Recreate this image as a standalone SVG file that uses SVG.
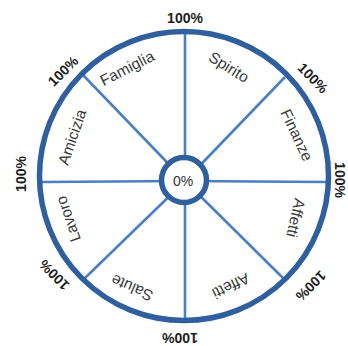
<svg xmlns="http://www.w3.org/2000/svg" width="348" height="346" viewBox="0 0 348 346">
<style>
.ring{fill:none;stroke:#2f5f9d;stroke-width:5.5}
.hub{fill:#fff;stroke:#2f5f9d;stroke-width:5.5}
.spoke{stroke:#4a7fc3;stroke-width:2.6;fill:none}
.lbl{font-family:"Liberation Sans",Arial,sans-serif;font-size:15.5px;fill:#3a3a3a;text-anchor:middle}
.pct{font-family:"Liberation Sans",Arial,sans-serif;font-size:14px;font-weight:bold;fill:#1e1e1e;text-anchor:middle}
.zero{font-family:"Liberation Sans",Arial,sans-serif;font-size:14px;fill:#333;text-anchor:middle}
</style>
<rect width="348" height="346" fill="#fff"/>
<g id="connectors">
<line class="spoke" x1="185" y1="181" x2="185" y2="33"/>
<line class="spoke" x1="185" y1="181" x2="185" y2="319"/>
<line class="spoke" x1="185" y1="181" x2="42" y2="182"/>
<line class="spoke" x1="185" y1="181" x2="327" y2="182"/>
<line class="spoke" x1="185" y1="181" x2="83" y2="75"/>
<line class="spoke" x1="185" y1="181" x2="285" y2="77"/>
<line class="spoke" x1="185" y1="181" x2="85" y2="278"/>
<line class="spoke" x1="185" y1="181" x2="284" y2="279"/>
</g>
<g id="outer">
<circle class="ring" cx="184" cy="176" r="144.5"/>
</g>
<g id="center">
<circle class="hub" cx="184" cy="180" r="22.5"/>
<text class="zero" x="183" y="186">0%</text>
</g>
<g id="spirito"><text class="lbl" transform="translate(229,67) rotate(32)" dy="5.5">Spirito</text></g>
<g id="finanze"><text class="lbl" transform="translate(297,135) rotate(65)" dy="5.5">Finanze</text></g>
<g id="affetti1"><text class="lbl" transform="translate(296,218) rotate(103)" dy="5.5">Affetti</text></g>
<g id="affetti2"><text class="lbl" transform="translate(231,286) rotate(154)" dy="5.5">Affetti</text></g>
<g id="salute"><text class="lbl" transform="translate(132,288) rotate(204)" dy="5.5">Salute</text></g>
<g id="lavoro"><text class="lbl" transform="translate(68,219) rotate(251)" dy="5.5">Lavoro</text></g>
<g id="amicizia"><text class="lbl" transform="translate(72,137) rotate(289)" dy="5.5">Amicizia</text></g>
<g id="famiglia"><text class="lbl" transform="translate(127,68) rotate(-27)" dy="5.5">Famiglia</text></g>
<g id="pct-labels">
<text class="pct" transform="translate(185,18)" dy="5">100%</text>
<text class="pct" transform="translate(313,78) rotate(45)" dy="5">100%</text>
<text class="pct" transform="translate(340,180) rotate(90)" dy="5">100%</text>
<text class="pct" transform="translate(311,286) rotate(135)" dy="5">100%</text>
<text class="pct" transform="translate(180,338) rotate(180)" dy="5">100%</text>
<text class="pct" transform="translate(54,275) rotate(225)" dy="5">100%</text>
<text class="pct" transform="translate(21,174) rotate(270)" dy="5">100%</text>
<text class="pct" transform="translate(63,71) rotate(315)" dy="5">100%</text>
</g>
</svg>
